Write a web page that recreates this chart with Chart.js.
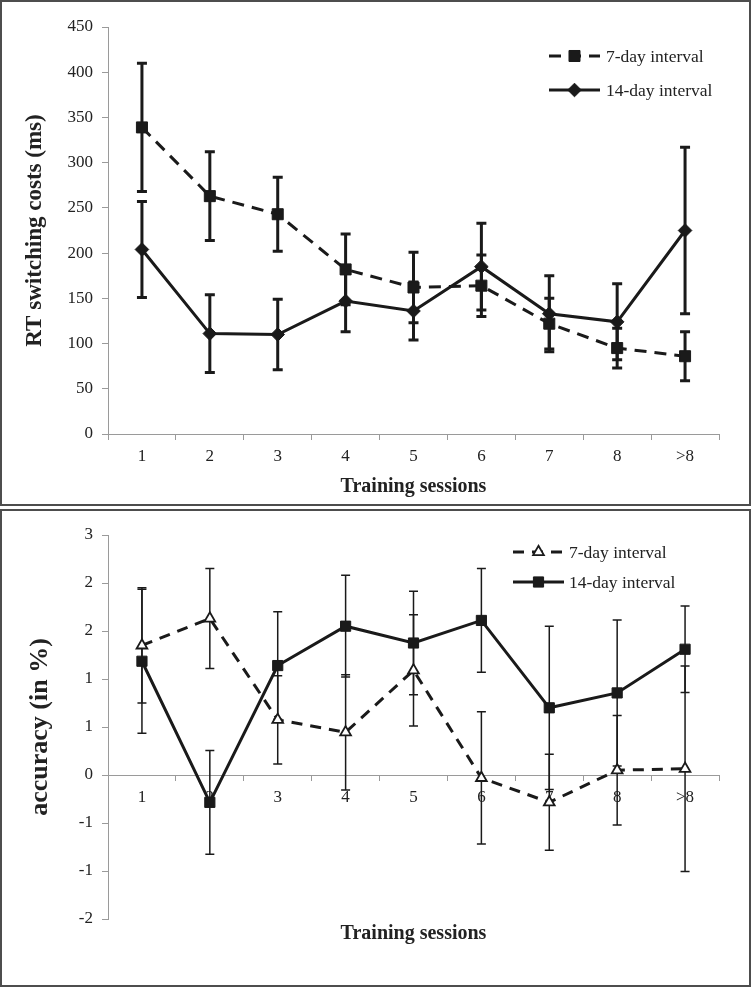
<!DOCTYPE html>
<html><head><meta charset="utf-8">
<script src="https://cdn.jsdelivr.net/npm/chart.js@4"></script>
<style>
html,body{margin:0;padding:0;background:#fff;}
body{width:752px;height:987px;position:relative;overflow:hidden;}
.panel{position:absolute;left:0;width:751px;box-sizing:border-box;border:2px solid #4d4d4d;}
#p1{top:0;height:506px;}
#p2{top:509px;height:478px;}
canvas{position:absolute;left:0;}
</style></head><body>
<div class="panel" id="p1"></div>
<div class="panel" id="p2"></div>
<canvas id="c1" width="752" height="506" style="top:0"></canvas>
<canvas id="c2" width="752" height="478" style="top:509px"></canvas>
<script>
// ---------- data ----------
const sessions = ['1','2','3','4','5','6','7','8','>8'];
const seriesNames = ['7-day interval','14-day interval'];

const rt7      = [339, 263, 243, 182, 162, 164, 122, 95, 86];
const rt7Err   = [71, 49, 41, 39, 39, 34, 28, 22, 27];
const rt14     = [204, 111, 110, 147, 136, 185, 133, 124, 225];
const rt14Err  = [53, 43, 39, 34, 32, 48, 42, 42, 92];

const acc7     = [1.35, 1.63, 0.575, 0.445, 1.09, -0.03, -0.285, 0.05, 0.065];
const acc7Err  = [0.60, 0.52, 0.46, 0.60, 0.58, 0.69, 0.50, 0.57, 1.07];
const acc14    = [1.185, -0.285, 1.14, 1.55, 1.375, 1.61, 0.70, 0.855, 1.31];
const acc14Err = [0.75, 0.54, 0.56, 0.53, 0.54, 0.54, 0.85, 0.76, 0.45];

// tick labels of the accuracy axis, top to bottom (as printed)
const accTickLabels = ['3','2','2','1','1','0','-1','-1','-2'];

// ---------- helpers ----------
const FONT = 'Liberation Serif';
const INK = '#1a1a1a';
const TXT = '#222';
const AXIS = '#9a9a9a';

const errorBars = {
  id: 'errorBars',
  beforeDatasetsDraw(chart, args, opts) {
    const ctx = chart.ctx, ys = chart.scales.y;
    chart.data.datasets.forEach((ds, di) => {
      const meta = chart.getDatasetMeta(di);
      ctx.save();
      ctx.strokeStyle = ds.borderColor;
      ctx.lineWidth = opts.width;
      ctx.setLineDash([]);
      ctx.lineCap = 'butt';
      meta.data.forEach((pt, i) => {
        const v = ds.data[i], e = ds.errors[i];
        const yt = ys.getPixelForValue(v + e), yb = ys.getPixelForValue(v - e);
        ctx.beginPath();
        ctx.moveTo(pt.x, yt); ctx.lineTo(pt.x, yb);
        ctx.moveTo(pt.x - opts.cap, yt); ctx.lineTo(pt.x + opts.cap, yt);
        ctx.moveTo(pt.x - opts.cap, yb); ctx.lineTo(pt.x + opts.cap, yb);
        ctx.stroke();
      });
      ctx.restore();
    });
  }
};

function drawMarker(ctx, style, r, x, y, bw) {
  if (Chart.helpers && Chart.helpers.drawPoint) {
    Chart.helpers.drawPoint(ctx, {pointStyle: style, radius: r, borderWidth: bw, rotation: 0}, x, y);
    return;
  }
  ctx.beginPath();
  if (style === 'rect') { const s = r * Math.SQRT1_2; ctx.rect(x - s, y - s, 2 * s, 2 * s); }
  else if (style === 'rectRot') { ctx.moveTo(x - r, y); ctx.lineTo(x, y - r); ctx.lineTo(x + r, y); ctx.lineTo(x, y + r); ctx.closePath(); }
  else { for (let k = 0; k < 3; k++) { const a = k * 2 * Math.PI / 3; ctx.lineTo(x + Math.sin(a) * r, y - Math.cos(a) * r); } ctx.closePath(); }
  ctx.fill(); if (bw > 0) ctx.stroke();
}

const sampleLegend = {
  id: 'sampleLegend',
  afterDraw(chart, args, opts) {
    const ctx = chart.ctx;
    chart.data.datasets.forEach((ds, k) => {
      const y = opts.y[k];
      ctx.save();
      ctx.strokeStyle = ds.borderColor;
      ctx.lineWidth = ds.borderWidth;
      ctx.setLineDash(ds.borderDash || []);
      ctx.beginPath(); ctx.moveTo(opts.x0, y); ctx.lineTo(opts.x1, y); ctx.stroke();
      ctx.setLineDash([]);
      ctx.fillStyle = ds.pointBackgroundColor;
      ctx.strokeStyle = ds.pointBorderColor;
      ctx.lineWidth = ds.pointBorderWidth;
      drawMarker(ctx, ds.pointStyle, ds.pointRadius, (opts.x0 + opts.x1) / 2, y, ds.pointBorderWidth);
      ctx.fillStyle = TXT;
      ctx.font = '17.5px "' + FONT + '"';
      ctx.textBaseline = 'middle';
      ctx.fillText(ds.label, opts.tx, y + 1);
      ctx.restore();
    });
  }
};

function fitArea(chart, pad, t) {
  for (let k = 0; k < 5; k++) {
    const a = chart.chartArea;
    const dl = t.left - a.left, dt = t.top - a.top, dr = a.right - t.right, db = a.bottom - t.bottom;
    if (Math.abs(dl) + Math.abs(dt) + Math.abs(dr) + Math.abs(db) < 0.3) break;
    pad.left += dl; pad.top += dt; pad.right += dr; pad.bottom += db;
    chart.update('none');
  }
}

const tickFont = {family: FONT, size: 17};

// ---------- chart 1 : RT switching costs ----------
const pad1 = {left: 10, top: 18, right: 33, bottom: 10};
const cfg1 = {
  type: 'line',
  data: {
    labels: sessions,
    datasets: [
      {label: seriesNames[0], data: rt7, errors: rt7Err, borderColor: INK, borderWidth: 3, borderDash: [12, 8],
       pointStyle: 'rect', pointRadius: 7.8, pointHoverRadius: 7.8, pointBackgroundColor: INK, pointBorderColor: INK, pointBorderWidth: 1, tension: 0, fill: false},
      {label: seriesNames[1], data: rt14, errors: rt14Err, borderColor: INK, borderWidth: 3,
       pointStyle: 'rectRot', pointRadius: 6.8, pointHoverRadius: 6.8, pointBackgroundColor: INK, pointBorderColor: INK, pointBorderWidth: 1, tension: 0, fill: false}
    ]
  },
  options: {
    responsive: false, animation: false, events: [],
    layout: {padding: pad1},
    plugins: {
      legend: {display: false}, tooltip: {enabled: false},
      errorBars: {width: 3, cap: 5},
      sampleLegend: {x0: 549, x1: 600, tx: 606, y: [56, 90]}
    },
    scales: {
      x: {
        type: 'category', offset: true,
        grid: {display: true, drawOnChartArea: false, offset: true, tickLength: 6, color: AXIS, tickColor: AXIS},
        border: {display: true, color: AXIS, width: 1},
        ticks: {color: TXT, font: tickFont, padding: 6, maxRotation: 0, autoSkip: false},
        title: {display: true, text: 'Training sessions', color: TXT, font: {family: FONT, size: 20, weight: 'bold'}, padding: {top: 2, bottom: 0}}
      },
      y: {
        min: 0, max: 450,
        ticks: {stepSize: 50, color: TXT, font: tickFont, padding: 9},
        grid: {display: true, drawOnChartArea: false, tickLength: 6, color: AXIS, tickColor: AXIS},
        border: {display: true, color: AXIS, width: 1},
        title: {display: true, text: 'RT switching costs (ms)', color: TXT, font: {family: FONT, size: 23, weight: 'bold'}, padding: {top: 0, bottom: 10}}
      }
    }
  },
  plugins: [errorBars, sampleLegend]
};
const chart1 = new Chart(document.getElementById('c1'), cfg1);
fitArea(chart1, pad1, {left: 108, top: 27, right: 719, bottom: 434});

// ---------- chart 2 : accuracy ----------
const pad2 = {left: 10, top: 18, right: 33, bottom: 30};
const cfg2 = {
  type: 'line',
  data: {
    labels: sessions,
    datasets: [
      {label: seriesNames[0], data: acc7, errors: acc7Err, borderColor: INK, borderWidth: 3, borderDash: [11, 8],
       pointStyle: 'triangle', pointRadius: 6.2, pointHoverRadius: 6.2, pointBackgroundColor: '#fff', pointBorderColor: INK, pointBorderWidth: 1.8, tension: 0, fill: false},
      {label: seriesNames[1], data: acc14, errors: acc14Err, borderColor: INK, borderWidth: 3,
       pointStyle: 'rect', pointRadius: 7.2, pointHoverRadius: 7.2, pointBackgroundColor: INK, pointBorderColor: INK, pointBorderWidth: 1, tension: 0, fill: false}
    ]
  },
  options: {
    responsive: false, animation: false, events: [],
    layout: {padding: pad2},
    plugins: {
      legend: {display: false}, tooltip: {enabled: false},
      title: {display: true, fullSize: false, position: 'bottom', text: 'Training sessions', color: TXT, font: {family: FONT, size: 20, weight: 'bold'}, padding: {top: 3, bottom: 0}},
      errorBars: {width: 1.5, cap: 4.5},
      sampleLegend: {x0: 513, x1: 564, tx: 569, y: [43, 73]}
    },
    scales: {
      x: {
        type: 'category', offset: true, position: {y: 0},
        grid: {display: true, drawOnChartArea: false, offset: true, tickLength: 5, color: AXIS, tickColor: AXIS},
        border: {display: true, color: AXIS, width: 1},
        ticks: {color: TXT, font: tickFont, padding: 7, maxRotation: 0, autoSkip: false},
        afterFit(scale) { scale.height = 0; }
      },
      y: {
        min: -1.5, max: 2.5,
        ticks: {stepSize: 0.5, color: TXT, font: tickFont, padding: 9,
                callback: (v, i, ticks) => accTickLabels[ticks.length - 1 - i]},
        grid: {display: true, drawOnChartArea: false, tickLength: 6, color: AXIS, tickColor: AXIS},
        border: {display: true, color: AXIS, width: 1},
        title: {display: true, text: 'accuracy (in %)', color: TXT, font: {family: FONT, size: 26, weight: 'bold'}, padding: {top: 0, bottom: 14}}
      }
    }
  },
  plugins: [errorBars, sampleLegend]
};
const chart2 = new Chart(document.getElementById('c2'), cfg2);
fitArea(chart2, pad2, {left: 108, top: 26, right: 719, bottom: 410});
</script>
</body></html>
